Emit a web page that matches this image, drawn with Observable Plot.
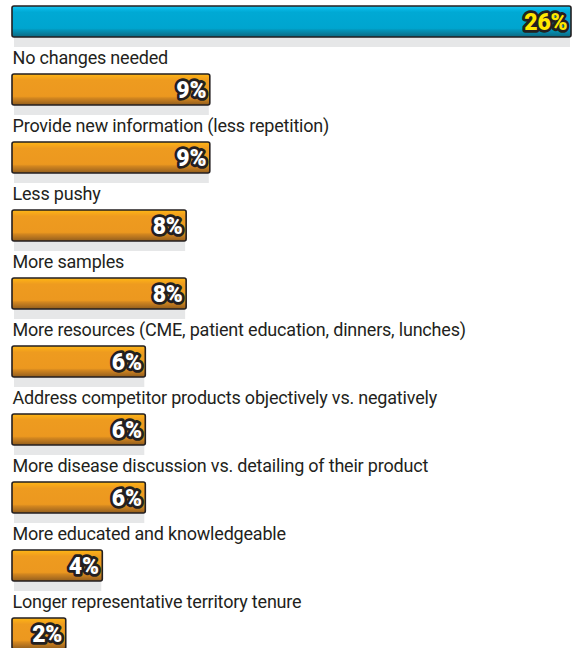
<!DOCTYPE html>
<html>
<head>
<meta charset="utf-8">
<script src="https://cdn.jsdelivr.net/npm/d3@7"></script>
<script src="https://cdn.jsdelivr.net/npm/@observablehq/plot@0.6"></script>
<style>
  html, body { margin: 0; padding: 0; background: #fff; }
  #chart svg { display: block; }
</style>
</head>
<body>
<div id="chart"></div>
<script>
const categories = [
  "",
  "No changes needed",
  "Provide new information (less repetition)",
  "Less pushy",
  "More samples",
  "More resources (CME, patient education, dinners, lunches)",
  "Address competitor products objectively vs. negatively",
  "More disease discussion vs. detailing of their product",
  "More educated and knowledgeable",
  "Longer representative territory tenure"
];
const values = [26, 9.2, 9.2, 8.1, 8.1, 6.2, 6.2, 6.2, 4.2, 2.5];
const valueLabels = ["26%", "9%", "9%", "8%", "8%", "6%", "6%", "6%", "4%", "2%"];
// the first row's label lies above the cropped picture

const data = categories.map((c, i) => ({
  key: "r" + i, label: c, value: values[i], text: valueLabels[i], highlight: i === 0
}));

const labelFont = "'Roboto', 'Liberation Sans', sans-serif";
const valueFont = "'Roboto', 'Liberation Sans', sans-serif";

function defs() {
  const svg = d3.create("svg:defs");
  const og = svg.append("linearGradient").attr("id", "gOrange")
    .attr("x1", 0).attr("y1", 0).attr("x2", 0).attr("y2", 1);
  [[0, "#fdb814"], [0.1, "#f7a81a"], [0.2, "#ee9b1f"], [0.72, "#ec981f"],
   [0.78, "#d2861f"], [0.9, "#b0701f"], [1, "#8f5c1c"]].forEach(([o, c]) =>
    og.append("stop").attr("offset", o).attr("stop-color", c));
  const bg = svg.append("linearGradient").attr("id", "gBlue")
    .attr("x1", 0).attr("y1", 0).attr("x2", 0).attr("y2", 1);
  [[0, "#1cc6f2"], [0.1, "#06b6e4"], [0.2, "#00a9d4"], [0.72, "#00a5cf"],
   [0.78, "#0393b8"], [0.9, "#087c9a"], [1, "#0b6680"]].forEach(([o, c]) =>
    bg.append("stop").attr("offset", o).attr("stop-color", c));
  return svg.node();
}

const step = 68;
const chart = Plot.plot({
  width: 574,
  height: 648,
  margin: 0,
  style: { letterSpacing: "-0.2px" },
  x: { domain: [0, 26], range: [12, 571], axis: null },
  y: { domain: data.map(d => d.key), range: [-19, -19 + step * data.length], padding: 0, axis: null },
  marks: [
    defs,
    // drop shadow under each bar
    Plot.rectX(data, { x1: 0, x2: "value", y: "key", fill: "#e6e7e8",
      insetTop: 56, insetBottom: 2, insetLeft: 2, insetRight: 1 }),
    // bars
    Plot.rectX(data.filter(d => !d.highlight), { x1: 0, x2: "value", y: "key",
      fill: "url(#gOrange)", stroke: "#231f20", strokeWidth: 1.6, rx: 2,
      insetTop: 25, insetBottom: 12 }),
    Plot.rectX(data.filter(d => d.highlight), { x1: 0, x2: "value", y: "key",
      fill: "url(#gBlue)", stroke: "#231f20", strokeWidth: 1.6, rx: 2,
      insetTop: 25, insetBottom: 12 }),
    // category labels above bars
    Plot.text(data, { x: 0, y: "key", text: "label", textAnchor: "start",
      lineAnchor: "bottom", dy: -20, dx: 0, fill: "#231f20",
      fontSize: 18, fontFamily: labelFont }),
    // value labels inside bar ends
    Plot.text(data, { x: "value", y: "key", text: "text", textAnchor: "end",
      lineAnchor: "middle", dy: 7, dx: -4,
      fill: d => d.highlight ? "#ffe800" : "#ffffff",
      stroke: "#231f20", strokeWidth: 5.5, strokeLinejoin: "round",
      fontSize: 23, fontWeight: 900, fontFamily: valueFont })
  ]
});
document.getElementById("chart").appendChild(chart);
</script>
</body>
</html>
